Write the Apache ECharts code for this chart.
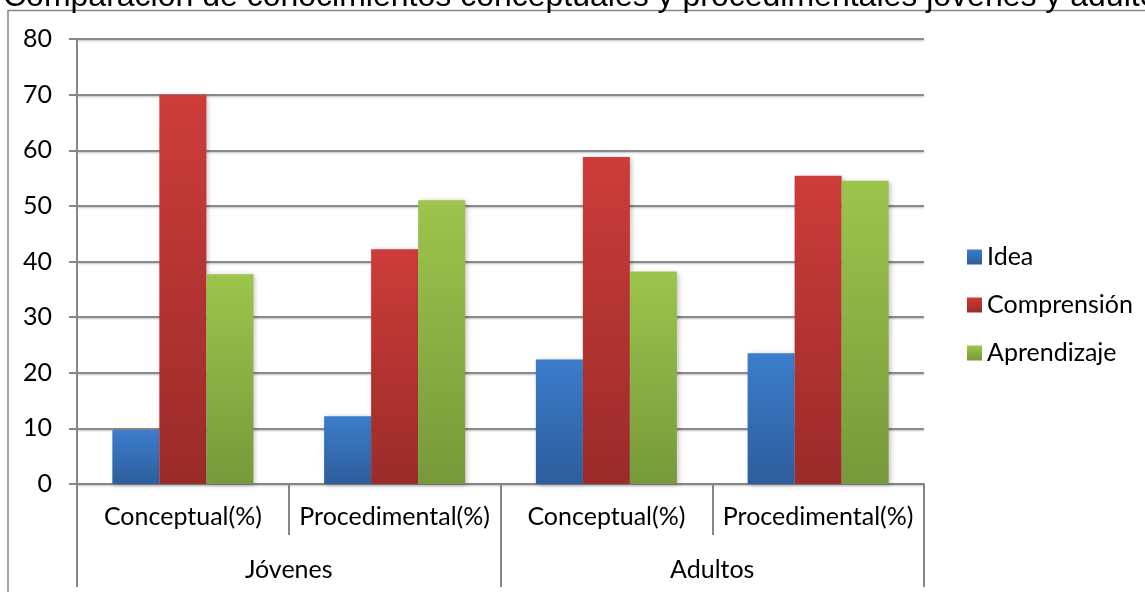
<!DOCTYPE html>
<html>
<head>
<meta charset="utf-8">
<script src="https://cdn.jsdelivr.net/npm/echarts@6/dist/echarts.min.js"></script>
<style>
  html, body { margin: 0; padding: 0; background: #fff; }
  #chart { width: 1145px; height: 592px; }
</style>
</head>
<body>
<div id="chart"></div>
<script>
// Category levels along the horizontal axis
const categories = ['Conceptual(%)', 'Procedimental(%)', 'Conceptual(%)', 'Procedimental(%)'];
const groups = ['Jóvenes', 'Adultos'];

// Series values (%), one per category
const idea = [9.7, 12.2, 22.4, 23.5];
const comprension = [70.0, 42.2, 58.8, 55.4];
const aprendizaje = [37.7, 51.0, 38.2, 54.5];

const seriesNames = ['Idea', 'Comprensión', 'Aprendizaje'];
const yTicks = { min: 0, max: 80, interval: 10 };

const titleText = 'Comparación de conocimientos conceptuales y procedimentales jóvenes y adultos';

const labelFont = 'Lato, "Noto Sans", sans-serif';
const axisGrey = '#868686';

function grad(top, bottom) {
  return new echarts.graphic.LinearGradient(0, 0, 0, 1, [
    { offset: 0, color: top },
    { offset: 1, color: bottom }
  ]);
}

const palette = [
  grad('#3c7dcd', '#2d5d9b'),
  grad('#cd3c39', '#9a2b2a'),
  grad('#9dc44c', '#77993a')
];

function barSeries(name, values, color) {
  return {
    name: name,
    type: 'bar',
    xAxisIndex: 0,
    yAxisIndex: 0,
    data: values,
    barGap: '0%',
    barCategoryGap: '33.4%',
    itemStyle: {
      color: color,
      shadowColor: 'rgba(0,0,0,0.25)',
      shadowBlur: 5,
      shadowOffsetX: 2,
      shadowOffsetY: 1
    },
    emphasis: { disabled: true }
  };
}

const chart = echarts.init(document.getElementById('chart'), null, { renderer: 'canvas' });

chart.setOption({
  animation: false,
  backgroundColor: '#ffffff',
  graphic: [
    {
      type: 'rect',
      z: -1,
      shape: { x: 8, y: 10.5, width: 1300, height: 800 },
      style: { fill: 'none', stroke: axisGrey, lineWidth: 1.5 }
    },
    {
      type: 'text',
      left: 3,
      top: -19,
      style: {
        text: titleText,
        font: '32px "Liberation Sans", Arial, sans-serif',
        fill: '#000'
      }
    }
  ],
  grid: { left: 77, right: 221, top: 39, bottom: 108, containLabel: false },
  legend: {
    orient: 'vertical',
    left: 967,
    top: 244,
    padding: 0,
    itemWidth: 15,
    itemHeight: 15,
    itemGap: 22,
    icon: 'rect',
    selectedMode: false,
    textStyle: { fontFamily: labelFont, fontSize: 25, lineHeight: 26, color: '#000' },
    data: seriesNames
  },
  xAxis: [
    {
      type: 'category',
      data: categories,
      position: 'bottom',
      axisLine: { show: true, lineStyle: { color: axisGrey, width: 2 } },
      axisTick: { show: true, interval: 0, length: 51, lineStyle: { color: axisGrey, width: 2 } },
      axisLabel: { interval: 0, margin: 20, fontFamily: labelFont, fontSize: 25, color: '#000' },
      splitLine: { show: false }
    },
    {
      type: 'category',
      data: groups,
      position: 'bottom',
      axisLine: { show: false },
      axisTick: { show: true, interval: 0, length: 103, lineStyle: { color: axisGrey, width: 2 } },
      axisLabel: { interval: 0, margin: 73, fontFamily: labelFont, fontSize: 25, color: '#000' },
      splitLine: { show: false }
    }
  ],
  yAxis: {
    type: 'value',
    min: yTicks.min,
    max: yTicks.max,
    interval: yTicks.interval,
    axisLine: { show: true, lineStyle: { color: axisGrey, width: 2 } },
    axisTick: { show: true, length: 8, lineStyle: { color: axisGrey, width: 2 } },
    axisLabel: { margin: 25, fontFamily: labelFont, fontSize: 25, color: '#000' },
    splitLine: {
      show: true,
      lineStyle: {
        color: '#8a8a8a',
        width: 2,
        shadowColor: 'rgba(0,0,0,0.25)',
        shadowBlur: 2,
        shadowOffsetY: 1
      }
    }
  },
  series: [
    barSeries(seriesNames[0], idea, palette[0]),
    barSeries(seriesNames[1], comprension, palette[1]),
    barSeries(seriesNames[2], aprendizaje, palette[2])
  ]
});
</script>
</body>
</html>
